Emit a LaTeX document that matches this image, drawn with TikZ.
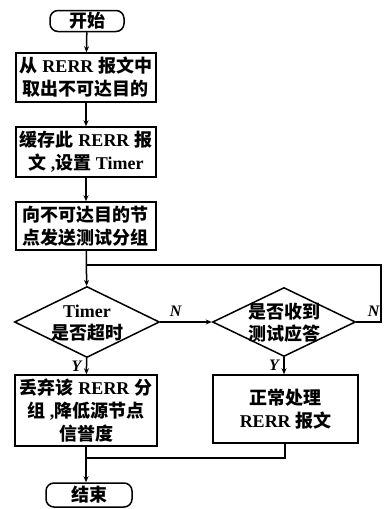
\documentclass[tikz,border=0pt]{standalone}
\usepackage{fontspec}
\setmainfont{Liberation Serif}
\newfontfamily\cjk{Noto Sans CJK SC}
\usetikzlibrary{shapes.geometric,arrows.meta}
\newcommand{\zh}[1]{{\cjk #1}}
\begin{document}
\begin{tikzpicture}[x=1pt,y=-1pt,
  font=\fontsize{18}{23}\selectfont\bfseries,
  every path/.style={line width=1.5pt},
  arr/.style={-{Stealth[length=6pt,width=5pt]}},
  proc/.style={draw,rectangle,inner sep=0pt,align=center},
  term/.style={draw,rectangle,rounded corners=8pt,inner sep=0pt,align=center},
  dec/.style={draw,diamond,inner sep=0pt},
  txt/.style={align=center,inner sep=0pt},
  lab/.style={font=\fontsize{16}{16}\selectfont\bfseries\itshape}]
\useasboundingbox (0,0) rectangle (391,509);
\node[term,minimum width=74pt,minimum height=21pt] (start) at (87,21) {\zh{开始}};
\node[proc,minimum width=140pt,minimum height=49pt] (b1) at (86,77.5) {\zh{从} RERR \zh{报文中}\\\zh{取出不可达目的}};
\node[proc,minimum width=140pt,minimum height=50pt] (b2) at (86,152) {\zh{缓存此} RERR \zh{报}\\\zh{文} ,\zh{设置} Timer};
\node[proc,minimum width=140pt,minimum height=48pt] (b3) at (86,226) {\zh{向不可达目的节}\\\zh{点发送测试分组}};
\node[dec,minimum width=145pt,minimum height=71pt] (d1) at (87,322) {};
\node[txt] (d1t) at (87,323) {Timer\\[-1pt]\zh{是否超时}};
\node[dec,minimum width=143pt,minimum height=69pt] (d2) at (284,322) {};
\node[txt] (d2t) at (284,323) {\zh{是否收到}\\[-1pt]\zh{测试应答}};
\node[proc,minimum width=142pt,minimum height=71pt] (b4) at (86,410.5) {\zh{丢弃该} RERR \zh{分}\\\zh{组} ,\zh{降低源节点}\\\zh{信誉度}};
\node[proc,minimum width=145pt,minimum height=68pt] (b5) at (285.5,409) {\zh{正常处理}\\RERR \zh{报文}};
\node[term,minimum width=86pt,minimum height=24pt] (end) at (89,495) {\zh{结束}};
\coordinate (loopL) at (87,265);
\coordinate (loopR) at (381,265);
\coordinate (dR) at (381,322);
\coordinate (mL) at (87,458);
\coordinate (mR) at (285,458);
\draw[arr] (start) -- (b1);
\draw[arr] (b1) -- (b2);
\draw[arr] (b2) -- (b3);
\draw[arr] (b3) -- (d1);
\draw[arr] (d1) -- node[lab,pos=0.5,left,xshift=-1pt]{Y} (b4);
\draw[arr] (d1.east) -- node[lab,pos=0.3,above,yshift=1pt]{N} (d2.west);
\draw[arr] (d2.south) -- node[lab,pos=0.5,left,xshift=-1pt]{Y} (b5.north -| d2.south);
\draw (d2.east) -- node[lab,pos=0.7,above,yshift=1pt]{N} (dR) -- (loopR) -- (loopL);
\draw[arr] (b4) -- (end.north -| b4.south);
\draw (b5.south -| mR) -- (mR) -- (mL);
\end{tikzpicture}
\end{document}
